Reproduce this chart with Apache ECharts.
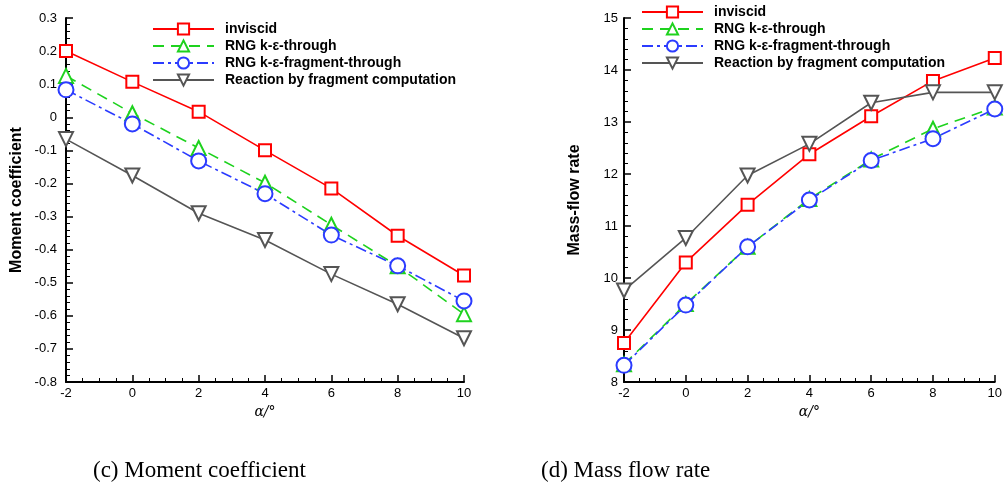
<!DOCTYPE html>
<html>
<head>
<meta charset="utf-8">
<script src="https://cdn.jsdelivr.net/npm/echarts@6/dist/echarts.min.js"></script>
<style>
  html, body { margin: 0; padding: 0; background: #fff; }
  #main { width: 1005px; height: 482px; }
</style>
</head>
<body>
<div id="main"></div>
<script>
// angle of attack
var alpha = [-2, 0, 2, 4, 6, 8, 10];
var seriesNames = ['inviscid', 'RNG k-ε-through', 'RNG k-ε-fragment-through', 'Reaction by fragment computation'];

// (c) moment coefficient
var momInviscid = [0.200, 0.107, 0.017, -0.100, -0.215, -0.358, -0.478];
var momRngThrough = [0.125, 0.012, -0.093, -0.198, -0.325, -0.450, -0.595];
var momRngFragment = [0.083, -0.020, -0.132, -0.231, -0.356, -0.449, -0.555];
var momReaction = [-0.066, -0.176, -0.290, -0.371, -0.474, -0.565, -0.668];

// (d) mass flow rate
var flowInviscid = [8.75, 10.30, 11.41, 12.38, 13.11, 13.79, 14.23];
var flowRngThrough = [8.34, 9.50, 10.60, 11.52, 12.28, 12.87, 13.28];
var flowRngFragment = [8.32, 9.48, 10.60, 11.50, 12.26, 12.68, 13.25];
var flowReaction = [9.76, 10.77, 11.97, 12.58, 13.37, 13.57, 13.57];

var colors = ['#ff0000', '#1ed21e', '#2b3bff', '#555555'];
var symbols = ['emptyRect', 'emptyTriangle', 'emptyCircle', 'emptyTriangle'];
var symbolSizes = [12, 14, 15, 14];
var lineTypes = ['solid', [11, 7], [11, 4, 3, 4], 'solid'];

function makeSeries(idx, data, gridIdx) {
    return {
        name: seriesNames[idx],
        type: 'line',
        xAxisIndex: gridIdx,
        yAxisIndex: gridIdx,
        data: alpha.map(function(a, i) { return [a, data[i]]; }),
        symbol: symbols[idx],
        symbolSize: symbolSizes[idx],
        symbolRotate: idx === 3 ? 180 : 0,
        color: colors[idx],
        itemStyle: { color: colors[idx], borderWidth: 1.6 },
        lineStyle: { color: colors[idx], width: 1.6, type: lineTypes[idx] },
        animation: false
    };
}

function xAxisFor(gridIdx) {
    return {
        gridIndex: gridIdx,
        type: 'value',
        min: -2, max: 10, interval: 2,
        name: 'α/°',
        nameLocation: 'middle',
        nameGap: 17,
        nameTextStyle: { fontFamily: 'DejaVu Serif', fontStyle: 'italic', fontSize: 14, color: '#000' },
        axisLine: { onZero: false, lineStyle: { color: '#000', width: 2 } },
        axisTick: { inside: true, length: 7, lineStyle: { color: '#000', width: 1.5 } },
        minorTick: { show: true, splitNumber: 4, length: 4, lineStyle: { color: '#000', width: 1 } },
        axisLabel: { color: '#000', fontFamily: 'Liberation Sans', fontSize: 13, margin: 5 },
        splitLine: { show: false }
    };
}

function yAxisFor(gridIdx, min, max, interval, name, gap, labelMargin) {
    return {
        gridIndex: gridIdx,
        type: 'value',
        min: min, max: max, interval: interval,
        name: name,
        nameLocation: 'middle',
        nameGap: gap,
        nameTextStyle: { fontFamily: 'Liberation Sans', fontWeight: 'bold', fontSize: 16, color: '#000' },
        axisLine: { show: true, onZero: false, lineStyle: { color: '#000', width: 2 } },
        axisTick: { inside: true, length: 7, lineStyle: { color: '#000', width: 1.5 } },
        minorTick: { show: true, splitNumber: 5, length: 4, lineStyle: { color: '#000', width: 1 } },
        axisLabel: {
            color: '#000', fontFamily: 'Liberation Sans', fontSize: 13, margin: labelMargin,
            formatter: function(v) { return String(Math.round(v * 10) / 10); }
        },
        splitLine: { show: false }
    };
}

function legendFor(left, top) {
    return {
        orient: 'vertical',
        left: left, top: top,
        itemWidth: 61, itemHeight: 14, itemGap: 3,
        data: seriesNames,
        textStyle: { fontFamily: 'Liberation Sans', fontWeight: 'bold', fontSize: 14, color: '#000', padding: [0, 0, 0, 6] },
        selectedMode: false
    };
}

var myChart = echarts.init(document.getElementById('main'), null, { renderer: 'canvas' });

var option = {
    backgroundColor: '#fff',
    animation: false,
    title: [
        { text: '(c) Moment coefficient', left: 88, top: 454,
          textStyle: { fontFamily: 'Liberation Serif', fontWeight: 'normal', fontSize: 23, color: '#000' } },
        { text: '(d) Mass flow rate', left: 536, top: 454,
          textStyle: { fontFamily: 'Liberation Serif', fontWeight: 'normal', fontSize: 23, color: '#000' } }
    ],
    legend: [legendFor(147, 17), legendFor(636, 0)],
    grid: [
        { left: 66, top: 18, width: 398, height: 364 },
        { left: 624, top: 18, width: 373, height: 364 }
    ],
    xAxis: [xAxisFor(0), xAxisFor(1)],
    yAxis: [
        yAxisFor(0, -0.8, 0.3, 0.1, 'Moment coefficient', 41, 9),
        yAxisFor(1, 8, 15, 1, 'Mass-flow rate', 41, 6)
    ],
    series: [
        makeSeries(0, momInviscid, 0),
        makeSeries(1, momRngThrough, 0),
        makeSeries(2, momRngFragment, 0),
        makeSeries(3, momReaction, 0),
        makeSeries(0, flowInviscid, 1),
        makeSeries(1, flowRngThrough, 1),
        makeSeries(2, flowRngFragment, 1),
        makeSeries(3, flowReaction, 1)
    ]
};
myChart.setOption(option);
</script>
</body>
</html>
